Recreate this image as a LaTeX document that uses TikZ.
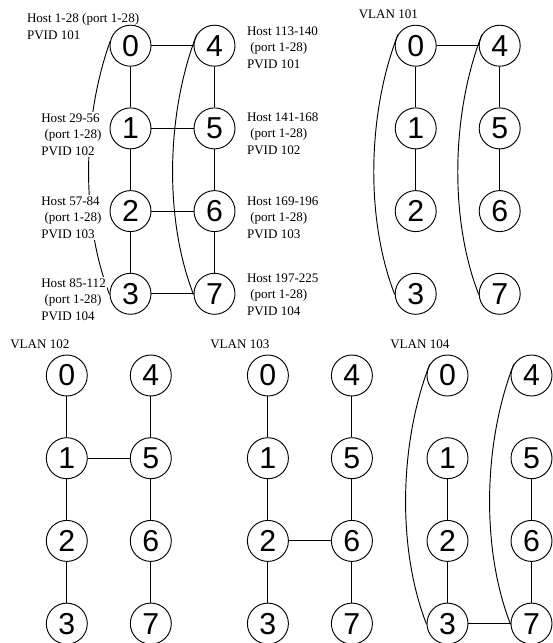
\documentclass[tikz,border=0pt]{standalone}
\usepackage{fontspec}
\setmainfont{Liberation Serif}
\newfontfamily\digitfont{Liberation Sans}
\pgfdeclarelayer{bg}
\pgfsetlayers{bg,main}
\tikzset{
  vn/.style={circle, draw, line width=0.7pt, minimum size=30.75pt, inner sep=0pt,
             font=\digitfont\fontsize{22.7}{24}\selectfont},
  ed/.style={line width=0.7pt},
  hostlbl/.style={anchor=north west, align=left, fill=white, inner sep=1pt,
             font=\fontsize{9.8}{12.5}\selectfont},
  vlbl/.style={anchor=base west, inner sep=0pt, font=\fontsize{9.8}{12}\selectfont},
}
\newcommand{\eightnodes}[3]{%
  \node[vn] (#1-0) at ({#2},{#3}) {0};
  \node[vn] (#1-1) at ({#2},{#3+82.7}) {1};
  \node[vn] (#1-2) at ({#2},{#3+165.4}) {2};
  \node[vn] (#1-3) at ({#2},{#3+248.1}) {3};
  \node[vn] (#1-4) at ({#2+84},{#3}) {4};
  \node[vn] (#1-5) at ({#2+84},{#3+82.7}) {5};
  \node[vn] (#1-6) at ({#2+84},{#3+165.4}) {6};
  \node[vn] (#1-7) at ({#2+84},{#3+248.1}) {7};
}
\newcommand{\bowcurve}[2]{%
  \draw[ed] (#1.148) .. controls +(-30,77) and +(-30,-77) .. (#2.182);
}
\begin{document}
\begin{tikzpicture}[x=0.75pt, y=-0.75pt]
\useasboundingbox (0,0) rectangle (553,643);

% nodes
\eightnodes{t}{130.5}{45.7}
\eightnodes{u}{415.7}{45.7}
\eightnodes{p}{66.8}{375.5}
\eightnodes{q}{267.9}{375.5}
\eightnodes{r}{447.5}{375.5}

% edges: full topology
\foreach \a/\b in {0/4,0/1,1/2,2/3,4/5,5/6,6/7,1/5,2/6,3/7}
  \draw[ed] (t-\a) -- (t-\b);
% VLAN 101
\foreach \a/\b in {0/4,0/1,1/2,4/5,5/6}
  \draw[ed] (u-\a) -- (u-\b);
% VLAN 102
\foreach \a/\b in {0/1,1/2,2/3,4/5,5/6,6/7,1/5}
  \draw[ed] (p-\a) -- (p-\b);
% VLAN 103
\foreach \a/\b in {0/1,1/2,2/3,4/5,5/6,6/7,2/6}
  \draw[ed] (q-\a) -- (q-\b);
% VLAN 104
\foreach \a/\b in {1/2,2/3,5/6,6/7,3/7}
  \draw[ed] (r-\a) -- (r-\b);

\begin{pgfonlayer}{bg}
  \bowcurve{t-0}{t-3}
  \bowcurve{t-4}{t-7}
  \bowcurve{u-0}{u-3}
  \bowcurve{u-4}{u-7}
  \bowcurve{r-0}{r-3}
  \bowcurve{r-4}{r-7}

  \node[hostlbl] (h0) at (25.4,11.8) {Host 1-28 (port 1-28)\\PVID 101};
  \node[hostlbl] (h1) at (39.7,111.8) {Host 29-56\\\ (port 1-28)\\PVID 102};
  \node[hostlbl] (h2) at (39.7,194.8) {Host 57-84\\\ (port 1-28)\\PVID 103};
  \node[hostlbl] (h3) at (39.7,276.8) {Host 85-112\\\ (port 1-28)\\PVID 104};
  \node[hostlbl] (h4) at (245.4,24.8) {Host 113-140\\\ (port 1-28)\\PVID 101};
  \node[hostlbl] (h5) at (245.4,110.8) {Host 141-168\\\ (port 1-28)\\PVID 102};
  \node[hostlbl] (h6) at (245.4,194.8) {Host 169-196\\\ (port 1-28)\\PVID 103};
  \node[hostlbl] (h7) at (245.4,271.8) {Host 197-225\\\ (port 1-28)\\PVID 104};
\end{pgfonlayer}

\node[vlbl] (v101) at (358.5,18) {VLAN 101};
\node[vlbl] (v102) at (10,348) {VLAN 102};
\node[vlbl] (v103) at (210,348) {VLAN 103};
\node[vlbl] (v104) at (390,348) {VLAN 104};
\end{tikzpicture}
\end{document}
